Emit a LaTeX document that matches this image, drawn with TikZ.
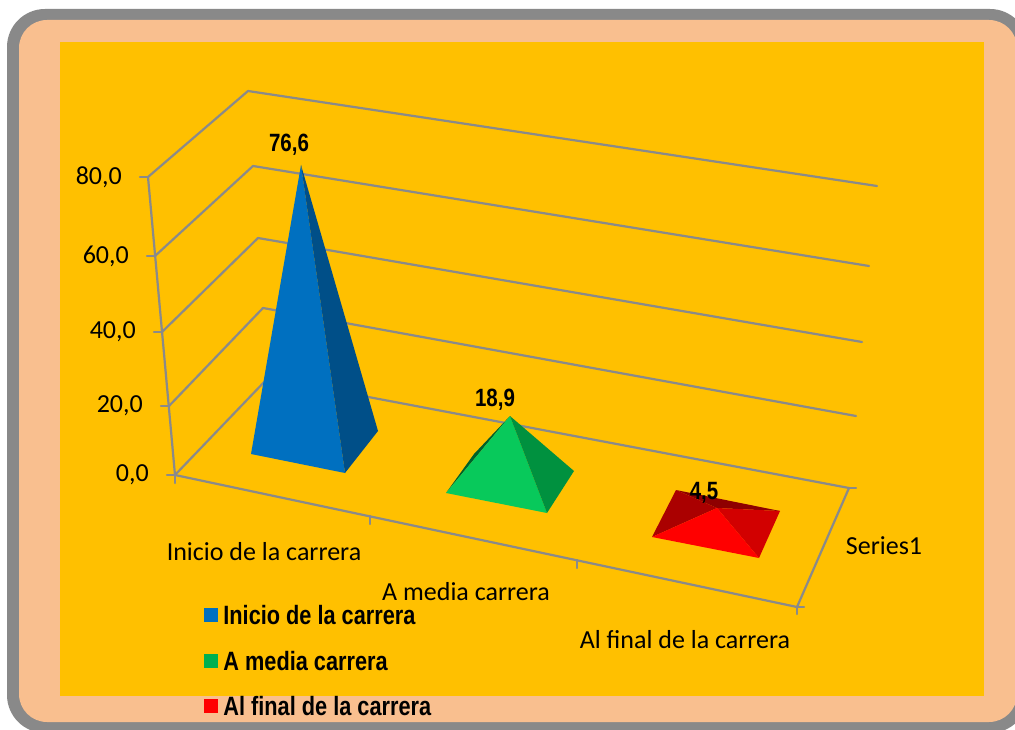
\documentclass[tikz,border=0pt]{standalone}
\usepackage{fontspec}
\setmainfont{Carlito}
\newfontfamily\narrowfont[FakeStretch=0.82]{Liberation Sans}
\usepackage{tikz}
\usetikzlibrary{positioning,calc}
\definecolor{framegray}{HTML}{898989}
\definecolor{peach}{HTML}{F9BF8F}
\definecolor{plotyellow}{HTML}{FFC000}
\definecolor{gridgray}{HTML}{8A8A8A}
\definecolor{blueL}{HTML}{0070C0}
\definecolor{blueD}{HTML}{004F88}
\definecolor{greenL}{HTML}{08C95B}
\definecolor{greenD}{HTML}{00913F}
\definecolor{greenDD}{HTML}{00602A}
\definecolor{redL}{HTML}{FF0000}
\definecolor{redM}{HTML}{D20000}
\definecolor{redD}{HTML}{AA0000}
\definecolor{redDD}{HTML}{8E0000}
\definecolor{legGreen}{HTML}{00B050}
\tikzset{grid/.style={
        draw=gridgray, 
        line width=2.2pt,
        line cap=round,
        line join=round } }
\tikzset{ylab/.style={
        inner sep=0pt,
        font=\fontsize{26}{30}\selectfont } }
\tikzset{catlab/.style={
        inner sep=0pt,
        font=\fontsize{26}{30}\selectfont } }
\tikzset{datalab/.style={
        inner sep=0pt,
        font=\fontsize{25}{29}\narrowfont\bfseries } }
\tikzset{legbox/.style={
        minimum size=14pt,
        inner sep=0pt } }
\tikzset{legtext/.style={
        inner sep=0pt,
        font=\fontsize{26.5}{30}\narrowfont\bfseries } }
\begin{document}
\begin{tikzpicture}[x=1pt,y=-1pt] %[pixel grid, y down]
\useasboundingbox (0,0) rectangle (1015,730);

% frame and plot area
\fill[framegray, rounded corners=38pt] (7,9) rectangle (1028,733);
\fill[peach, rounded corners=28pt] (19,20) rectangle (1017,722);
\fill[plotyellow] (60,42) rectangle (984,696);

% walls: front axis, back corner, right end
\coordinate (f80) at (148,177);
\coordinate (f60) at (155,256);
\coordinate (f40) at (162,332);
\coordinate (f20) at (169,406);
\coordinate (f0) at (175,475);
\coordinate (b80) at (248,91);
\coordinate (b60) at (253,166);
\coordinate (b40) at (258,238);
\coordinate (b20) at (263,308);
\coordinate (b0) at (268,378);
\coordinate (r80) at (877,186);
\coordinate (r60) at (869,266);
\coordinate (r40) at (862,342);
\coordinate (r20) at (856,416);
\coordinate (r0) at (849,488);
\coordinate (fr0) at (797,607);
\coordinate (c1) at (370,516);
\coordinate (c2) at (577,560);

\draw[grid] (f80) -- (b80) -- (r80);
\draw[grid] (f60) -- (b60) -- (r60);
\draw[grid] (f40) -- (b40) -- (r40);
\draw[grid] (f20) -- (b20) -- (r20);
\draw[grid] (f0) -- (b0) -- (r0);
\draw[grid] (f80) -- (f0) -- (fr0) -- (r0);

% ticks
\coordinate (t80) at ($(f80)+(-8,0)$);
\coordinate (t60) at ($(f60)+(-8,0)$);
\coordinate (t40) at ($(f40)+(-8,0)$);
\coordinate (t20) at ($(f20)+(-8,0)$);
\coordinate (t0) at ($(f0)+(-8,0)$);
\path[grid]
(f80) edge (t80)
(f60) edge (t60)
(f40) edge (t40)
(f20) edge (t20)
(f0) edge (t0)
(f0) edge ++(0,8)
(c1) edge ++(0,8)
(c2) edge ++(0,8)
(fr0) edge ++(0,7)
(fr0) edge ++(7,0)
(r0) edge ++(7,0);

\node[ylab, left=18pt of t80] (l80) {80,0};
\node[ylab, left=18pt of t60] (l60) {60,0};
\node[ylab, left=18pt of t40] (l40) {40,0};
\node[ylab, left=18pt of t20] (l20) {20,0};
\node[ylab, left=18pt of t0] (l0) {0,0};

% Inicio de la carrera
\coordinate (p1) at (301,165);
\coordinate (p1fl) at (251,454);
\coordinate (p1fr) at (345,473);
\coordinate (p1br) at (378,431);
\fill[blueL] (p1) -- (p1fl) -- (p1fr) -- cycle;
\fill[blueD] (p1) -- (p1fr) -- (p1br) -- cycle;

% A media carrera
\coordinate (p2) at (510,416);
\coordinate (p2bl) at (474,454);
\coordinate (p2fl) at (446,493);
\coordinate (p2fr) at (547,513);
\coordinate (p2br) at (574,471);
\fill[greenDD] (p2) -- (p2bl) -- (p2fl) -- cycle;
\fill[greenL] (p2) -- (p2fl) -- (p2fr) -- cycle;
\fill[greenD] (p2) -- (p2fr) -- (p2br) -- cycle;

% Al final de la carrera
\coordinate (p3) at (717,508);
\coordinate (p3bl) at (676,490);
\coordinate (p3fl) at (652,537);
\coordinate (p3fr) at (759,558);
\coordinate (p3br) at (780,511);
\fill[redDD] (p3) -- (p3bl) -- (p3br) -- cycle;
\fill[redD] (p3) -- (p3bl) -- (p3fl) -- cycle;
\fill[redM] (p3) -- (p3fr) -- (p3br) -- cycle;
\fill[redL] (p3) -- (p3fl) -- (p3fr) -- cycle;

\node[datalab] (v1) at (289,145) {76,6};
\node[datalab] (v2) at (495,400) {18,9};
\node[datalab] (v3) at (704,493) {4,5};

\node[catlab] (cat1) at (264,552) {Inicio de la carrera};
\node[catlab] (cat2) at (466,592) {A media carrera};
\node[catlab] (cat3) at (685,640) {Al final de la carrera};
\node[catlab] (ser) at (884,546) {Series1};

% legend
\node[legbox, fill=blueL] (lg1) at (211,615) {};
\node[legbox, fill=legGreen] (lg2) at (211,661) {};
\node[legbox, fill=redL] (lg3) at (211,706) {};
\node[legtext, right=5pt of lg1] (lt1) {Inicio de la carrera};
\node[legtext, right=5pt of lg2] (lt2) {A media carrera};
\node[legtext, right=5pt of lg3] (lt3) {Al final de la carrera};

\end{tikzpicture}
\end{document}
